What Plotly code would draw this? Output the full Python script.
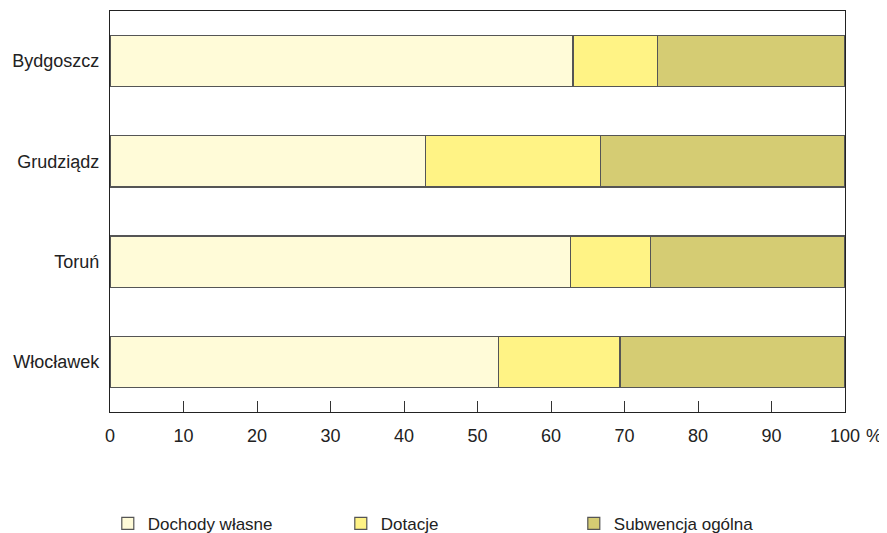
import plotly.graph_objects as go

cities = ["Bydgoszcz", "Grudziądz", "Toruń", "Włocławek"]
dochody_wlasne = [63.0, 42.9, 62.6, 52.9]
dotacje = [11.5, 23.8, 10.9, 16.5]
subwencja = [25.5, 33.3, 26.5, 30.6]
x_ticks = [0, 10, 20, 30, 40, 50, 60, 70, 80, 90, 100]

series = [
    ("Dochody własne", dochody_wlasne, "#FFFBD8"),
    ("Dotacje", dotacje, "#FFF385"),
    ("Subwencja ogólna", subwencja, "#D5CC73"),
]

fig = go.Figure()
for name, vals, col in series:
    fig.add_trace(go.Bar(
        y=cities, x=vals, name=name, orientation="h",
        marker=dict(color=col, line=dict(color="#555555", width=1.2)),
        width=0.51,
    ))

fig.update_layout(
    barmode="stack",
    width=879, height=525,
    margin=dict(l=102, r=42, t=3, b=121, autoexpand=False),
    plot_bgcolor="white", paper_bgcolor="white",
    font=dict(family="Liberation Sans, Arial, sans-serif", size=18, color="#222222"),
    showlegend=True,
    legend=dict(
        orientation="h", x=-0.003, y=-0.279, xanchor="left", yanchor="middle",
        entrywidth=188, entrywidthmode="pixels",
        font=dict(size=17, color="#222222"),
        traceorder="normal",
    ),
    xaxis=dict(
        range=[0, 100], tickvals=x_ticks, ticktext=[str(v) for v in x_ticks],
        ticks="inside", ticklen=11, tickcolor="#333333", tickwidth=1,
        showline=True, linecolor="#222222", linewidth=1.2, mirror=True,
        showgrid=False, zeroline=False, automargin=False, ticklabelstandoff=7,
    ),
    yaxis=dict(
        categoryorder="array", categoryarray=cities, autorange="reversed",
        showline=True, linecolor="#222222", linewidth=1.2, mirror=True,
        showgrid=False, zeroline=False, ticks="", ticklabelstandoff=6,
        automargin=False,
    ),
)

fig.add_annotation(
    text="%", xref="paper", yref="paper", x=1.0, y=0, xshift=29, yshift=-24,
    xanchor="center", yanchor="middle",
    showarrow=False, font=dict(size=18, color="#222222"),
)

fig.write_html("out.html")
